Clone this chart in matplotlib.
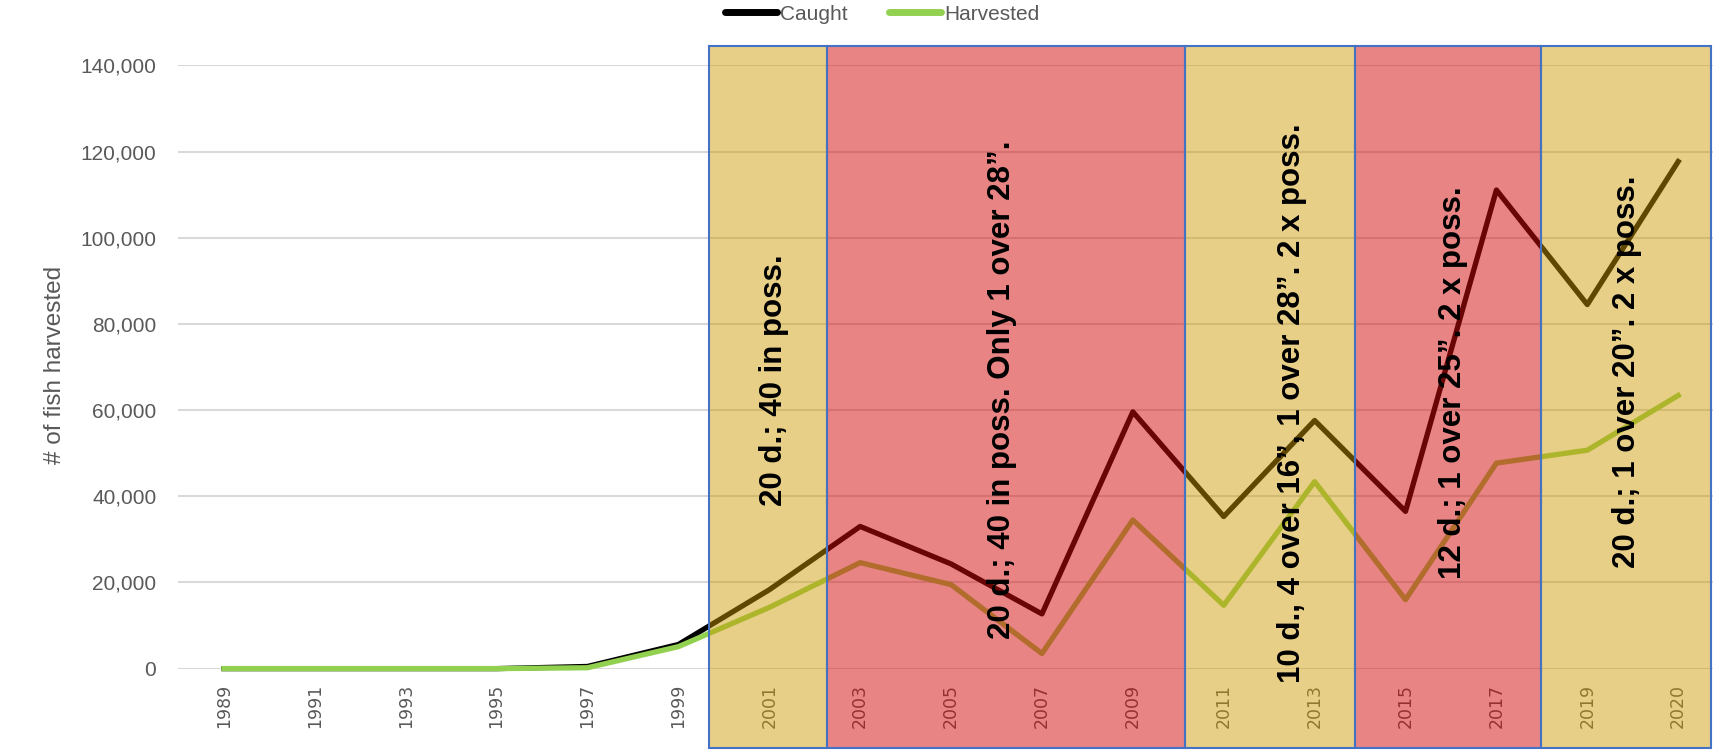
import matplotlib.pyplot as plt
from matplotlib.patches import Rectangle

# data
years = ['1989', '1991', '1993', '1995', '1997', '1999', '2001', '2003', '2005',
         '2007', '2009', '2011', '2013', '2015', '2017', '2019', '2020']
caught = [0, 0, 0, 0, 500, 5600, 18300, 33000, 24300, 12700, 59600, 35300,
          57600, 36500, 111100, 84500, 117700]
harvested = [0, 0, 0, 0, 200, 5100, 14200, 24600, 19500, 3500, 34500, 14700,
             43400, 16000, 47700, 50700, 63400]

# regulation periods (edges in category units) and their notes
period_edges = [5.34, 6.64, 10.57, 12.44, 14.49, 16.36]
period_kind = ['tan', 'red', 'tan', 'red', 'tan']
period_notes = ['20 d.; 40 in poss.',
                '20 d.; 40 in poss. Only 1 over 28\u201d.',
                '10 d., 4 over 16\u201d, 1 over 28\u201d. 2 x poss.',
                '12 d.; 1 over 25\u201d. 2 x poss.',
                '20 d.; 1 over 20\u201d. 2 x poss.']
note_x = [6.05, 8.56, 11.75, 13.52, 15.44]
note_y = [66900, 64700, 61600, 66400, 69000]

fill = {'tan': ((204/255, 153/255, 0), 0.47), 'red': ((210/255, 10/255, 10/255), 0.5)}

fig = plt.figure(figsize=(17.13, 7.51), dpi=100)
ax = fig.add_axes([0.1042, 0.1097, 0.902, 0.8031])

x = list(range(len(years)))
l1, = ax.plot(x, caught, color='black', lw=3.8, label='Caught', clip_on=False, zorder=2)
l2, = ax.plot(x, harvested, color='#92D050', lw=3.8, label='Harvested', clip_on=False, zorder=2)

ax.set_xlim(-0.5, 16.5)
ax.set_ylim(0, 140000)
ax.set_yticks(range(0, 140001, 20000))
ax.set_yticklabels([f'{v:,}' for v in range(0, 140001, 20000)],
                   fontsize=15, color='#595959', family='Liberation Sans')
ax.set_xticks(x)
ax.set_xticklabels(years, rotation=90, fontsize=12.5, color='#595959', family='DejaVu Sans')
ax.tick_params(axis='both', length=0)
ax.tick_params(axis='y', pad=16)
ax.tick_params(axis='x', pad=11)
ax.grid(axis='y', color='#D9D9D9', lw=1.5)
ax.set_axisbelow(True)
for s in ax.spines.values():
    s.set_visible(False)

ax.set_ylabel('# of fish harvested', fontsize=17.5, color='#595959', family='Liberation Sans')
ax.yaxis.set_label_coords(-0.073, 0.503)

# shaded regulation boxes, drawn over lines and tick labels
y_bot, y_top = -18400, 144500
for i, kind in enumerate(period_kind):
    c, a = fill[kind]
    x0, x1 = period_edges[i], period_edges[i + 1]
    ax.add_patch(Rectangle((x0, y_bot), x1 - x0, y_top - y_bot, facecolor=c, alpha=a,
                           edgecolor='none', clip_on=False, zorder=3))
    ax.add_patch(Rectangle((x0, y_bot), x1 - x0, y_top - y_bot, facecolor='none',
                           edgecolor='#4472C4', lw=1.5, clip_on=False, zorder=3.5))

for note, nx, ny in zip(period_notes, note_x, note_y):
    ax.text(nx, ny, note, rotation=90, ha='center', va='center', fontsize=22.5,
            fontweight='bold', family='Liberation Sans', color='black', zorder=5)

leg = fig.legend(handles=[l1, l2], loc='center', bbox_to_anchor=(0.515, 0.981), ncol=2,
                 frameon=False, handlelength=2.5, handletextpad=0.15, columnspacing=2.0,
                 labelcolor='#595959', prop={'family': 'Liberation Sans', 'size': 15})
for h in leg.legend_handles:
    h.set_linewidth(5)
    h.set_solid_capstyle('round')

fig.savefig('out.png', dpi=100)
